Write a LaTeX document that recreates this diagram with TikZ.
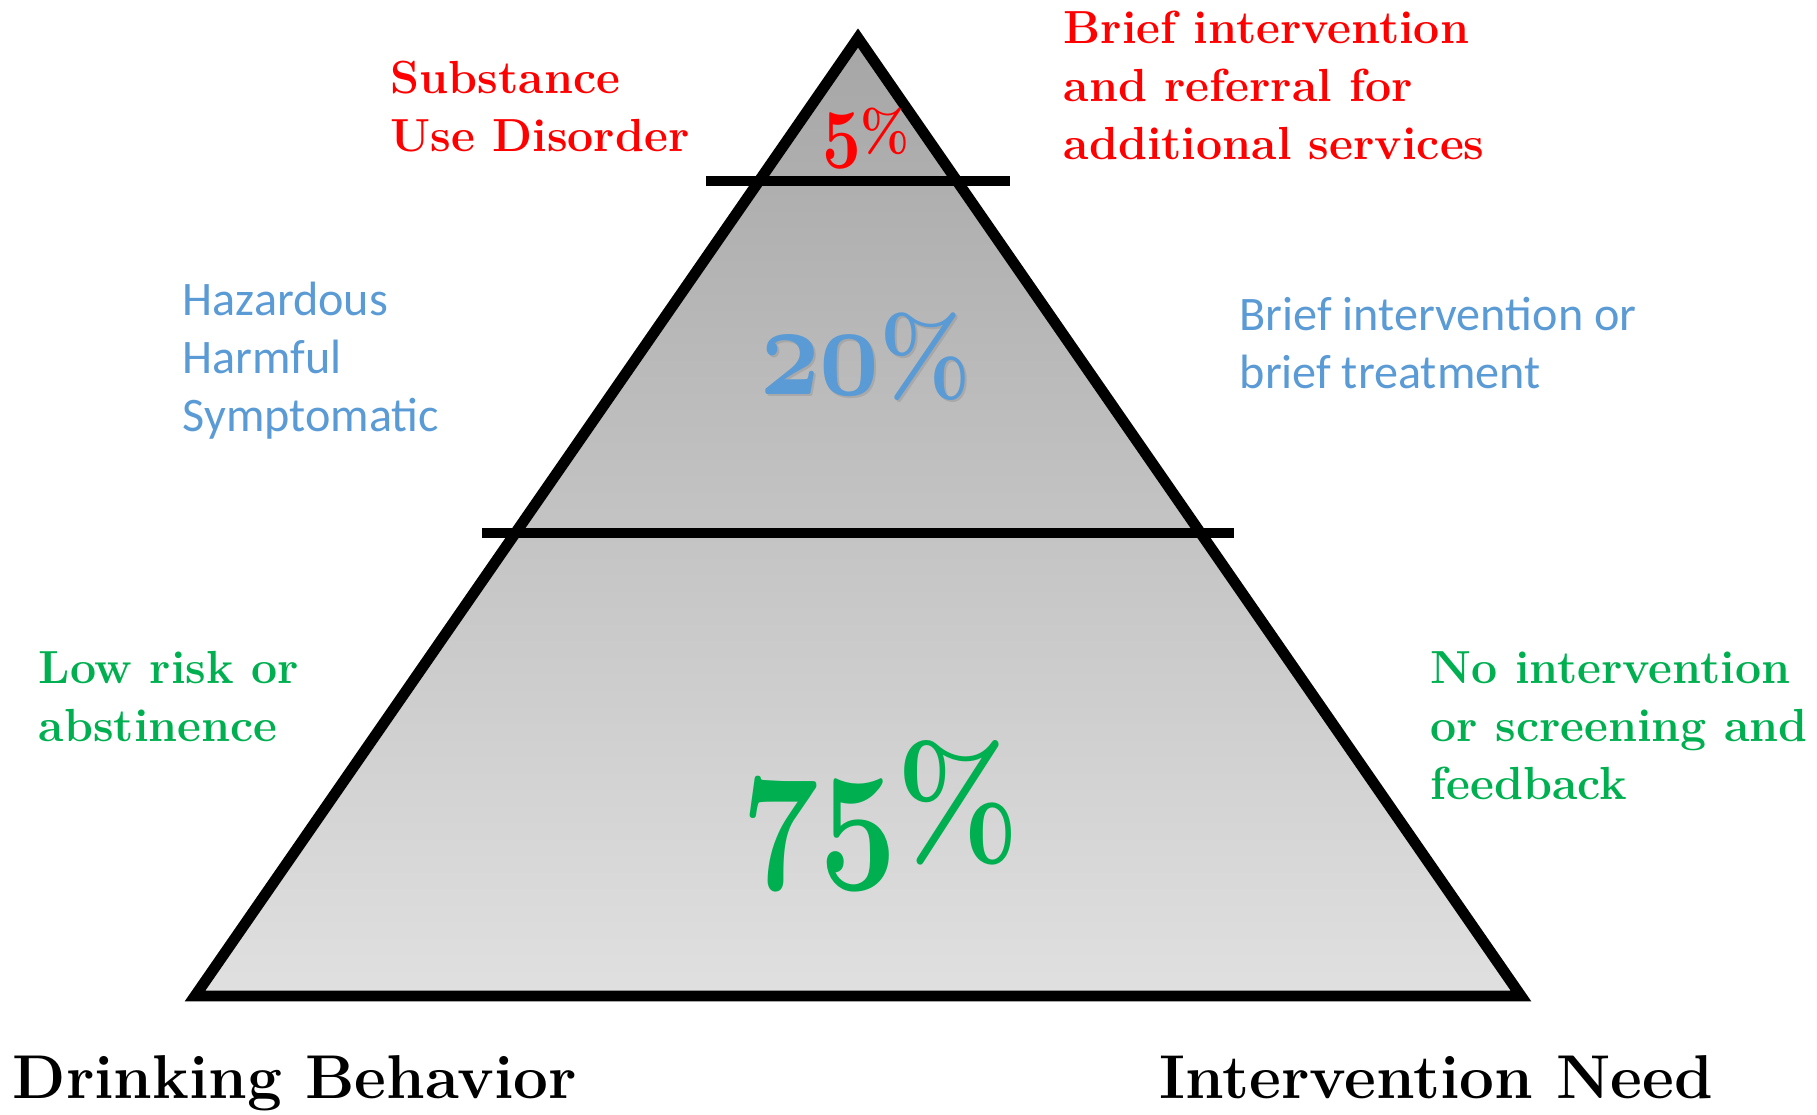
\documentclass[tikz,border=0pt]{standalone}
\usepackage{fix-cm}
\usepackage{fontspec}
\newfontfamily\calibri{Carlito}
\usetikzlibrary{positioning}

\definecolor{sudred}{HTML}{FF0000}
\definecolor{riskblue}{HTML}{5B9BD5}
\definecolor{lowgreen}{HTML}{00B050}
\definecolor{pyrtop}{HTML}{A6A6A6}
\definecolor{pyrbottom}{HTML}{E0E0E0}

% old style digits taken from the bold math italic font, squeezed a little
\newcommand\oldnum[3]{{\fontsize{#1}{#1}\usefont{OML}{cmm}{b}{it}\scalebox{#2}[1]{#3}}}
\newcommand\pct[2]{{\fontsize{#1}{#1}\bfseries\scalebox{#2}[1]{\%}}}

\tikzset{
sidetext/.style={anchor=north west, inner sep=0pt, align=left, font=\bfseries\fontsize{13.2}{16.5}\selectfont}, % serif labels beside the pyramid
softtext/.style={sidetext, font=\calibri\fontsize{13.7}{16.5}\selectfont}, % the blue labels are sans
heading/.style={anchor=base west, inner sep=0pt, font=\bfseries\fontsize{17.6}{22}\selectfont}, % column titles
share/.style={anchor=base, inner sep=0pt}, % percentages inside the tiers
tier/.style={line width=2.7pt}, % lines that cut the pyramid
}

\begin{document}
\begin{tikzpicture}[x=0.01cm, y=-0.01cm]
\useasboundingbox (0,0) rectangle (1817,1114);

% pyramid
\coordinate (apex) at (858,38);
\coordinate (baseL) at (195,996);
\coordinate (baseR) at (1521,996);
\draw[line width=3.1pt, miter limit=20, top color=pyrtop, bottom color=pyrbottom]
  (apex) -- (baseR) -- (baseL) -- cycle;

% tier lines
\coordinate (topL) at (706,181);
\coordinate (topR) at (1010,181);
\coordinate (midL) at (482,533);
\coordinate (midR) at (1234,533);
\draw[tier] (topL) -- (topR);
\draw[tier] (midL) -- (midR);

% percentages
\node[share, text=sudred] (five) at (866,151) {\oldnum{24}{0.8}{5}\pct{16.5}{0.9}};
\node[share, text=black!50, opacity=0.3] (twentyshadow) at (868,396) {\oldnum{37}{0.8}{20}\pct{31}{0.9}};
\node[share, text=riskblue] (twenty) at (866,394) {\oldnum{37}{0.8}{20}\pct{31}{0.9}};
\node[share, text=lowgreen] (seventyfive) at (881,856) {\oldnum{48}{0.8}{75}\pct{44}{0.85}};

% drinking behavior side
\node[sidetext, text=sudred] (sud) at (390,60) {Substance\\Use Disorder};
\node[softtext, text=riskblue] (hazard) at (182,281) {Hazardous\\Harmful\\Symptomatic};
\node[sidetext, text=lowgreen] (lowrisk) at (38,651) {Low risk or\\abstinence};

% intervention side
\node[sidetext, text=sudred] (referral) at (1063,10) {Brief intervention\\and referral for\\additional services};
\node[softtext, text=riskblue] (brief) at (1239,296) {Brief intervention or\\brief treatment};
\node[sidetext, text=lowgreen] (feedback) at (1430,651) {No intervention\\or screening and\\feedback};

% titles
\node[heading] (behavior) at (12,1098) {Drinking Behavior};
\node[heading] (need) at (1159,1098) {Intervention Need};
\end{tikzpicture}
\end{document}
